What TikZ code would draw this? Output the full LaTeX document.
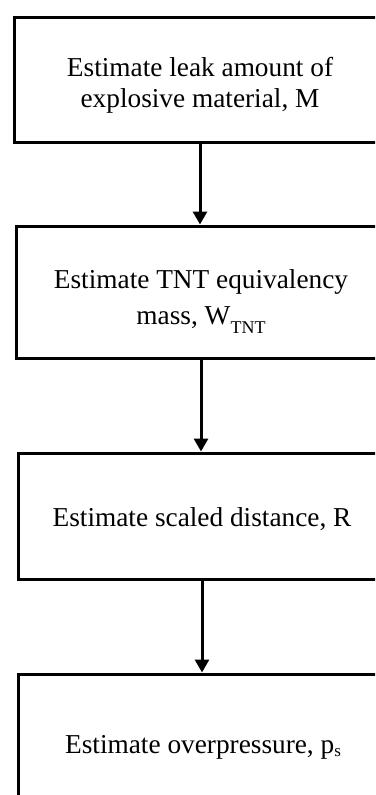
\documentclass[tikz,border=0pt]{standalone}
\usepackage{fontspec}
\setmainfont{Liberation Serif}
\usetikzlibrary{arrows.meta}
\newcommand{\subtxt}[2]{\raisebox{#1}{\fontsize{#2}{#2}\selectfont}}
\begin{document}
\begin{tikzpicture}[x=1pt,y=-1pt,
  stepbox/.style={draw=black,line width=3pt,rectangle,inner sep=0pt},
  steptext/.style={inner sep=0pt,align=center},
  flow/.style={line width=3pt,-{Triangle[width=14pt,length=13pt]}}]
\useasboundingbox (0,0) rectangle (375,795);
\clip (0,0) rectangle (375,795);
\fill[white] (0,0) rectangle (375,795);
\node[stepbox,minimum width=372pt,minimum height=125pt] (b1) at (200,79.5) {};
\node[stepbox,minimum width=370pt,minimum height=132pt] (b2) at (201,292) {};
\node[stepbox,minimum width=368pt,minimum height=126pt] (b3) at (202,516) {};
\node[stepbox,minimum width=370pt,minimum height=148pt] (b4) at (203,748) {};
\node[steptext,font=\fontsize{27.3}{31}\selectfont] (t1) at (200,85.3)
  {\strut Estimate leak amount of\\\strut explosive material, M};
\node[steptext,font=\fontsize{27.3}{36}\selectfont] (t2) at (201,298.8)
  {\strut Estimate TNT equivalency\\\strut mass, W\raisebox{-9pt}{\fontsize{18}{18}\selectfont TNT}};
\node[steptext,anchor=base,font=\fontsize{27.3}{32}\selectfont] (t3) at (202,526)
  {Estimate scaled distance, R};
\node[steptext,anchor=base,font=\fontsize{27.3}{32}\selectfont] (t4) at (203,753)
  {Estimate overpressure, p\raisebox{-3.5pt}{\fontsize{17}{17}\selectfont s}};
\draw[flow] (b1.south) -- (b1.south |- b2.north);
\draw[flow] (b2.south) -- (b2.south |- b3.north);
\draw[flow] (b3.south) -- (b3.south |- b4.north);
\end{tikzpicture}
\end{document}
